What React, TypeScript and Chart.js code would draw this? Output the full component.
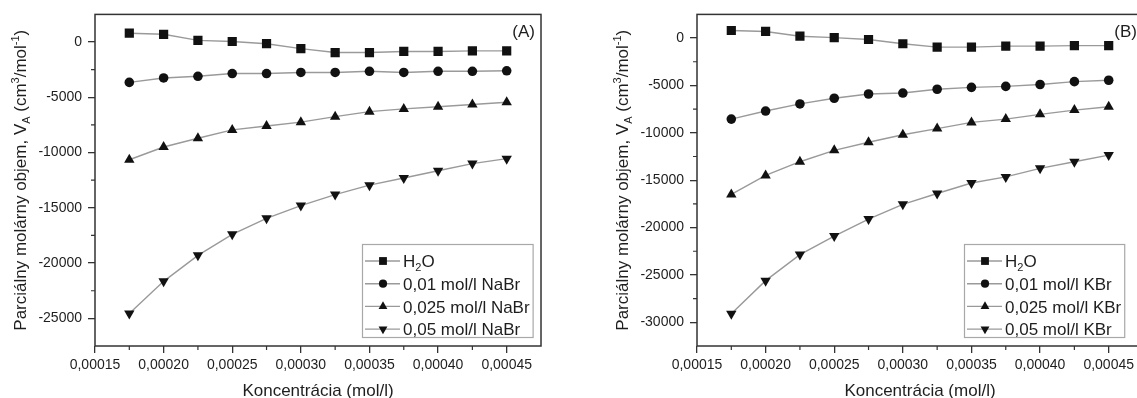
import React, { useEffect, useRef } from 'react';
import { Chart, registerables } from 'chart.js';

Chart.register(...registerables);

// ---------- data ----------
const concentrations = [0.000175, 0.0002, 0.000225, 0.00025, 0.000275, 0.0003, 0.000325, 0.00035, 0.000375, 0.0004, 0.000425, 0.00045];

const waterA = [800, 700, 150, 50, -150, -600, -950, -950, -850, -850, -800, -800];
const nabr001 = [-3650, -3250, -3100, -2850, -2850, -2750, -2750, -2650, -2750, -2650, -2650, -2600];
const nabr0025 = [-10650, -9500, -8700, -7950, -7600, -7250, -6750, -6300, -6050, -5850, -5650, -5450];
const nabr005 = [-24550, -21650, -19300, -17400, -15950, -14800, -13800, -12950, -12300, -11650, -11000, -10550];

const waterB = [800, 700, 200, 50, -150, -600, -950, -950, -850, -850, -800, -800];
const kbr001 = [-8550, -7700, -6950, -6350, -5900, -5800, -5400, -5200, -5100, -4900, -4600, -4450];
const kbr0025 = [-16500, -14500, -13050, -11850, -11000, -10200, -9550, -8900, -8550, -8050, -7600, -7250];
const kbr005 = [-29100, -25600, -22850, -20900, -19100, -17550, -16400, -15300, -14650, -13750, -13050, -12350];

const labelsA = ['H₂O', '0,01 mol/l NaBr', '0,025 mol/l NaBr', '0,05 mol/l NaBr'];
const labelsB = ['H₂O', '0,01 mol/l KBr', '0,025 mol/l KBr', '0,05 mol/l KBr'];

const xTickValues = [0.00015, 0.0002, 0.00025, 0.0003, 0.00035, 0.0004, 0.00045];
const yTicksA = [0, -5000, -10000, -15000, -20000, -25000];
const yTicksB = [0, -5000, -10000, -15000, -20000, -25000, -30000];

const xTitle = 'Koncentrácia (mol/l)';
const yTitle = 'Parciálny molárny objem, V_{A} (cm³/mol⁻¹)';

// ---------- styling ----------
const FONT = '"Liberation Sans", Arial, sans-serif';
const TEXT = '#1e1e1e';
const AXIS = '#333333';
const LINE = '#9a9a9a';
const MARK = '#111111';
const STYLES = ['rect', 'circle', 'triangle', 'triangle'];
const ROTS = [0, 0, 0, 180];
const RADII = [6.5, 4.8, 6, 6];

const SUB: Record<string, string> = { '₀': '0', '₁': '1', '₂': '2', '₃': '3', '₄': '4', '₅': '5', '₆': '6', '₇': '7', '₈': '8', '₉': '9' };
const SUP: Record<string, string> = { '⁰': '0', '¹': '1', '²': '2', '³': '3', '⁴': '4', '⁵': '5', '⁶': '6', '⁷': '7', '⁸': '8', '⁹': '9', '⁻': '-' };

type Seg = { t: string; m: 'n' | 'sub' | 'sup' };
function parseRich(text: string): Seg[] {
  const out: Seg[] = [];
  const push = (t: string, m: Seg['m']) => {
    const last = out[out.length - 1];
    if (last && last.m === m) last.t += t;
    else out.push({ t, m });
  };
  let i = 0;
  while (i < text.length) {
    const ch = text[i];
    if (ch === '_' && text[i + 1] === '{') {
      const j = text.indexOf('}', i);
      push(text.slice(i + 2, j), 'sub');
      i = j + 1;
      continue;
    }
    if (SUB[ch]) push(SUB[ch], 'sub');
    else if (SUP[ch]) push(SUP[ch], 'sup');
    else push(ch, 'n');
    i++;
  }
  return out;
}
function segFont(m: Seg['m'], size: number) {
  return `${m === 'n' ? size : Math.round(size * 0.62)}px ${FONT}`;
}
function measureRich(ctx: CanvasRenderingContext2D, text: string, size: number) {
  let w = 0;
  for (const s of parseRich(text)) {
    ctx.font = segFont(s.m, size);
    w += ctx.measureText(s.t).width;
  }
  return w;
}
// draws with x = left start, y = vertical centre
function drawRich(ctx: CanvasRenderingContext2D, text: string, x: number, y: number, size: number) {
  ctx.textBaseline = 'alphabetic';
  ctx.textAlign = 'left';
  const base = y + size * 0.36;
  let cx = x;
  for (const s of parseRich(text)) {
    ctx.font = segFont(s.m, size);
    const dy = s.m === 'sub' ? size * 0.25 : s.m === 'sup' ? -size * 0.4 : 0;
    ctx.fillText(s.t, cx, base + dy);
    cx += ctx.measureText(s.t).width;
  }
}

function drawMarker(ctx: CanvasRenderingContext2D, style: string, rot: number, r: number, x: number, y: number) {
  ctx.beginPath();
  if (style === 'rect') {
    const s = r * Math.SQRT1_2;
    ctx.rect(x - s, y - s, 2 * s, 2 * s);
  } else if (style === 'circle') {
    ctx.arc(x, y, r, 0, Math.PI * 2);
  } else {
    let a = (rot * Math.PI) / 180;
    for (let k = 0; k < 3; k++) {
      const px = x + Math.sin(a) * r;
      const py = y - Math.cos(a) * r;
      if (k === 0) ctx.moveTo(px, py);
      else ctx.lineTo(px, py);
      a += (2 * Math.PI) / 3;
    }
    ctx.closePath();
  }
  ctx.fill();
}

const decoPlugin = {
  id: 'panelDeco',
  afterDraw(chart: any, _args: any, opts: any) {
    const ctx: CanvasRenderingContext2D = chart.ctx;
    const { left, right, top, bottom } = chart.chartArea;
    const xs = chart.scales.x;
    const ys = chart.scales.y;
    ctx.save();

    // frame
    ctx.strokeStyle = AXIS;
    ctx.lineWidth = 1.5;
    ctx.strokeRect(left, top, right - left, bottom - top);

    // minor ticks
    ctx.lineWidth = 1.2;
    ctx.beginPath();
    const xt: number[] = opts.xTicks;
    for (let i = 0; i < xt.length; i++) {
      const v = xt[i] + (xt[1] - xt[0]) / 2;
      if (v >= xs.max) continue;
      const px = xs.getPixelForValue(v);
      ctx.moveTo(px, bottom);
      ctx.lineTo(px, bottom + 4);
    }
    const yt: number[] = opts.yTicks;
    for (let i = 0; i < yt.length - 1; i++) {
      const v = (yt[i] + yt[i + 1]) / 2;
      const py = ys.getPixelForValue(v);
      ctx.moveTo(left, py);
      ctx.lineTo(left - 4, py);
    }
    ctx.stroke();

    ctx.fillStyle = TEXT;
    // panel tag
    ctx.font = `17px ${FONT}`;
    ctx.textAlign = 'right';
    ctx.textBaseline = 'middle';
    ctx.fillText(opts.tag, right - 6, top + 18);

    // axis titles
    const xw = measureRich(ctx, opts.xTitle, 17);
    drawRich(ctx, opts.xTitle, (left + right) / 2 - xw / 2, 390, 17);
    ctx.save();
    ctx.translate(left - 75, (top + bottom) / 2);
    ctx.rotate(-Math.PI / 2);
    const yw = measureRich(ctx, opts.yTitle, 17);
    drawRich(ctx, opts.yTitle, -yw / 2, 0, 17);
    ctx.restore();

    // legend
    const ds = chart.data.datasets;
    const lx = left + opts.legendDx;
    const ly = opts.legendTop;
    let maxW = 0;
    ds.forEach((d: any) => { maxW = Math.max(maxW, measureRich(ctx, d.label, 17)); });
    const w = 41 + maxW + 3;
    const h = 93;
    ctx.fillStyle = '#ffffff';
    ctx.fillRect(lx, ly, w, h);
    ctx.strokeStyle = '#a8a8a8';
    ctx.lineWidth = 1.2;
    ctx.strokeRect(lx + 0.5, ly + 0.5, w, h);
    ds.forEach((d: any, i: number) => {
      const cy = ly + 17 + i * 22.7;
      ctx.strokeStyle = LINE;
      ctx.lineWidth = 1.4;
      ctx.beginPath();
      ctx.moveTo(lx + 3, cy);
      ctx.lineTo(lx + 38, cy);
      ctx.stroke();
      ctx.fillStyle = MARK;
      drawMarker(ctx, STYLES[i], ROTS[i], RADII[i] * 0.85, lx + 21, cy);
      ctx.fillStyle = TEXT;
      drawRich(ctx, d.label, lx + 41, cy, 17);
    });
    ctx.restore();
  },
};

type PanelProps = {
  series: number[][];
  labels: string[];
  yTicks: number[];
  yMin: number;
  tag: string;
  left: number;
};

function Panel({ series, labels, yTicks, yMin, tag, left }: PanelProps) {
  const ref = useRef<HTMLCanvasElement | null>(null);
  useEffect(() => {
    if (!ref.current) return;
    const chart = new Chart(ref.current, {
      type: 'line',
      data: {
        datasets: series.map((vals, i) => ({
          label: labels[i],
          data: concentrations.map((x, k) => ({ x, y: vals[k] })),
          borderColor: LINE,
          borderWidth: 1.4,
          backgroundColor: MARK,
          pointBackgroundColor: MARK,
          pointBorderColor: MARK,
          pointBorderWidth: 0,
          pointStyle: STYLES[i] as any,
          pointRotation: ROTS[i],
          pointRadius: RADII[i],
          tension: 0,
          fill: false,
        })),
      },
      options: {
        animation: false,
        responsive: false,
        devicePixelRatio: 1,
        layout: { padding: { top: 14, right: 19, left: 0, bottom: 0 } },
        plugins: {
          legend: { display: false },
          tooltip: { enabled: false },
          panelDeco: { tag, xTitle, yTitle, xTicks: xTickValues, yTicks, legendDx: 267, legendTop: 244 },
        } as any,
        scales: {
          x: {
            type: 'linear',
            min: 0.00015,
            max: 0.000475,
            afterBuildTicks: (s: any) => { s.ticks = xTickValues.map((v) => ({ value: v })); },
            afterFit: (s: any) => { s.height = 52; },
            grid: { drawOnChartArea: false, drawTicks: true, tickLength: 7, color: AXIS, lineWidth: 1.3 },
            border: { display: false },
            ticks: {
              autoSkip: false,
              maxRotation: 0,
              padding: 4,
              color: TEXT,
              font: { family: FONT, size: 14 },
              callback: (v: any) => Number(v).toFixed(5).replace('.', ','),
            },
          },
          y: {
            type: 'linear',
            min: yMin,
            max: 2500,
            afterBuildTicks: (s: any) => { s.ticks = yTicks.map((v) => ({ value: v })); },
            afterFit: (s: any) => { s.width = 95; },
            grid: { drawOnChartArea: false, drawTicks: true, tickLength: 7, color: AXIS, lineWidth: 1.3 },
            border: { display: false },
            ticks: {
              autoSkip: false,
              padding: 6,
              color: TEXT,
              font: { family: FONT, size: 14 },
              callback: (v: any) => String(v),
            },
          },
        },
      },
      plugins: [decoPlugin as any],
    });
    return () => chart.destroy();
  }, []);
  return (
    <canvas
      ref={ref}
      width={560}
      height={398}
      style={{ position: 'absolute', left, top: 0, width: 560, height: 398 }}
    />
  );
}

export default function App() {
  return (
    <div style={{ position: 'fixed', left: 0, top: 0, width: 1137, height: 398, overflow: 'hidden', background: '#ffffff' }}>
      <Panel series={[waterA, nabr001, nabr0025, nabr005]} labels={labelsA} yTicks={yTicksA} yMin={-27500} tag="(A)" left={0} />
      <Panel series={[waterB, kbr001, kbr0025, kbr005]} labels={labelsB} yTicks={yTicksB} yMin={-32500} tag="(B)" left={602} />
    </div>
  );
}
